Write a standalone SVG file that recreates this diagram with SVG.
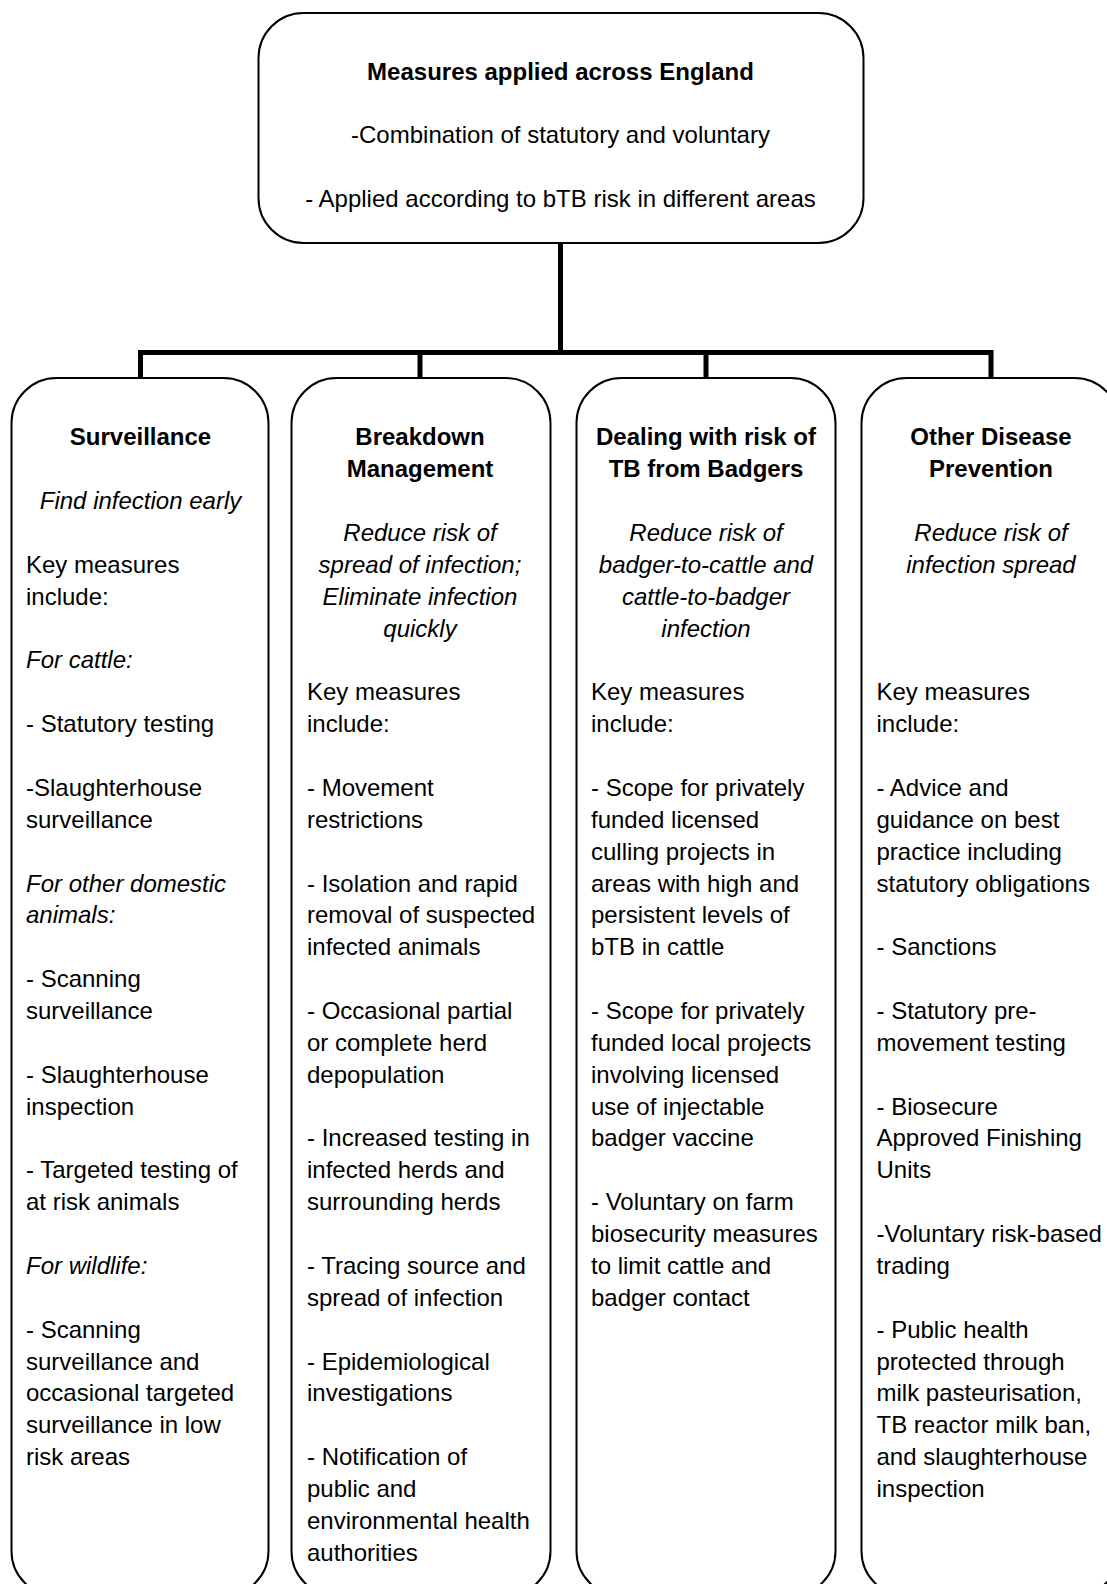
<svg xmlns="http://www.w3.org/2000/svg" width="1107" height="1584" viewBox="0 0 1107 1584">
<style>
.box{fill:#fff;stroke:#000;stroke-width:2}
.con{fill:none;stroke:#000;stroke-width:5;stroke-linejoin:miter;stroke-linecap:butt}
text{font-family:"Liberation Sans",Arial,sans-serif;font-size:24px;fill:#000}
.c{text-anchor:middle}
.b{font-weight:bold}
.i{font-style:italic}
</style>
<rect width="1107" height="1584" fill="#fff"/>
<g id="connectors">
<path class="con" d="M560.5 243 V352.5"/>
<path class="con" d="M140.5 378 V352.5 H991 V378"/>
<path class="con" d="M420 352.5 V378"/>
<path class="con" d="M706 352.5 V378"/>
</g>
<g id="top">
<rect class="box" x="258.5" y="13" width="605" height="230" rx="45"/>
<text class="c b" x="560.5" y="80">Measures applied across England</text>
<text class="c" x="560.5" y="142.7">-Combination of statutory and voluntary</text>
<text class="c" x="560.5" y="207.4">- Applied according to bTB risk in different areas</text>
</g>
<g id="surveillance">
<rect class="box" x="11.5" y="378" width="257" height="1218" rx="45"/>
<text class="c b" x="140.5" y="445.3">Surveillance</text>
<text class="c i" x="140.5" y="509">Find infection early</text>
<text x="26" y="572.8">Key measures</text>
<text x="26" y="604.7">include:</text>
<text class="i" x="26" y="668.4">For cattle:</text>
<text x="26" y="732.1">- Statutory testing</text>
<text x="26" y="795.9">-Slaughterhouse</text>
<text x="26" y="827.7">surveillance</text>
<text class="i" x="26" y="891.5">For other domestic</text>
<text class="i" x="26" y="923.4">animals:</text>
<text x="26" y="987.1">- Scanning</text>
<text x="26" y="1019">surveillance</text>
<text x="26" y="1082.7">- Slaughterhouse</text>
<text x="26" y="1114.6">inspection</text>
<text x="26" y="1178.3">- Targeted testing of</text>
<text x="26" y="1210.2">at risk animals</text>
<text class="i" x="26" y="1273.9">For wildlife:</text>
<text x="26" y="1337.7">- Scanning</text>
<text x="26" y="1369.5">surveillance and</text>
<text x="26" y="1401.4">occasional targeted</text>
<text x="26" y="1433.3">surveillance in low</text>
<text x="26" y="1465.1">risk areas</text>
</g>
<g id="breakdown">
<rect class="box" x="291.5" y="378" width="259" height="1218" rx="45"/>
<text class="c b" x="420" y="445.3">Breakdown</text>
<text class="c b" x="420" y="477.2">Management</text>
<text class="c i" x="420" y="540.9">Reduce risk of</text>
<text class="c i" x="420" y="572.8">spread of infection;</text>
<text class="c i" x="420" y="604.7">Eliminate infection</text>
<text class="c i" x="420" y="636.5">quickly</text>
<text x="307" y="700.3">Key measures</text>
<text x="307" y="732.1">include:</text>
<text x="307" y="795.9">- Movement</text>
<text x="307" y="827.7">restrictions</text>
<text x="307" y="891.5">- Isolation and rapid</text>
<text x="307" y="923.4">removal of suspected</text>
<text x="307" y="955.2">infected animals</text>
<text x="307" y="1019">- Occasional partial</text>
<text x="307" y="1050.8">or complete herd</text>
<text x="307" y="1082.7">depopulation</text>
<text x="307" y="1146.4">- Increased testing in</text>
<text x="307" y="1178.3">infected herds and</text>
<text x="307" y="1210.2">surrounding herds</text>
<text x="307" y="1273.9">- Tracing source and</text>
<text x="307" y="1305.8">spread of infection</text>
<text x="307" y="1369.5">- Epidemiological</text>
<text x="307" y="1401.4">investigations</text>
<text x="307" y="1465.1">- Notification of</text>
<text x="307" y="1497">public and</text>
<text x="307" y="1528.9">environmental health</text>
<text x="307" y="1560.8">authorities</text>
</g>
<g id="badgers">
<rect class="box" x="576.5" y="378" width="259" height="1218" rx="45"/>
<text class="c b" x="706" y="445.3">Dealing with risk of</text>
<text class="c b" x="706" y="477.2">TB from Badgers</text>
<text class="c i" x="706" y="540.9">Reduce risk of</text>
<text class="c i" x="706" y="572.8">badger-to-cattle and</text>
<text class="c i" x="706" y="604.7">cattle-to-badger</text>
<text class="c i" x="706" y="636.5">infection</text>
<text x="591" y="700.3">Key measures</text>
<text x="591" y="732.1">include:</text>
<text x="591" y="795.9">- Scope for privately</text>
<text x="591" y="827.7">funded licensed</text>
<text x="591" y="859.6">culling projects in</text>
<text x="591" y="891.5">areas with high and</text>
<text x="591" y="923.4">persistent levels of</text>
<text x="591" y="955.2">bTB in cattle</text>
<text x="591" y="1019">- Scope for privately</text>
<text x="591" y="1050.8">funded local projects</text>
<text x="591" y="1082.7">involving licensed</text>
<text x="591" y="1114.6">use of injectable</text>
<text x="591" y="1146.4">badger vaccine</text>
<text x="591" y="1210.2">- Voluntary on farm</text>
<text x="591" y="1242.1">biosecurity measures</text>
<text x="591" y="1273.9">to limit cattle and</text>
<text x="591" y="1305.8">badger contact</text>
</g>
<g id="prevention">
<rect class="box" x="861.5" y="378" width="258" height="1218" rx="45"/>
<text class="c b" x="991" y="445.3">Other Disease</text>
<text class="c b" x="991" y="477.2">Prevention</text>
<text class="c i" x="991" y="540.9">Reduce risk of</text>
<text class="c i" x="991" y="572.8">infection spread</text>
<text x="876.5" y="700.3">Key measures</text>
<text x="876.5" y="732.1">include:</text>
<text x="876.5" y="795.9">- Advice and</text>
<text x="876.5" y="827.7">guidance on best</text>
<text x="876.5" y="859.6">practice including</text>
<text x="876.5" y="891.5">statutory obligations</text>
<text x="876.5" y="955.2">- Sanctions</text>
<text x="876.5" y="1019">- Statutory pre-</text>
<text x="876.5" y="1050.8">movement testing</text>
<text x="876.5" y="1114.6">- Biosecure</text>
<text x="876.5" y="1146.4">Approved Finishing</text>
<text x="876.5" y="1178.3">Units</text>
<text x="876.5" y="1242.1">-Voluntary risk-based</text>
<text x="876.5" y="1273.9">trading</text>
<text x="876.5" y="1337.7">- Public health</text>
<text x="876.5" y="1369.5">protected through</text>
<text x="876.5" y="1401.4">milk pasteurisation,</text>
<text x="876.5" y="1433.3">TB reactor milk ban,</text>
<text x="876.5" y="1465.1">and slaughterhouse</text>
<text x="876.5" y="1497">inspection</text>
</g>
</svg>
